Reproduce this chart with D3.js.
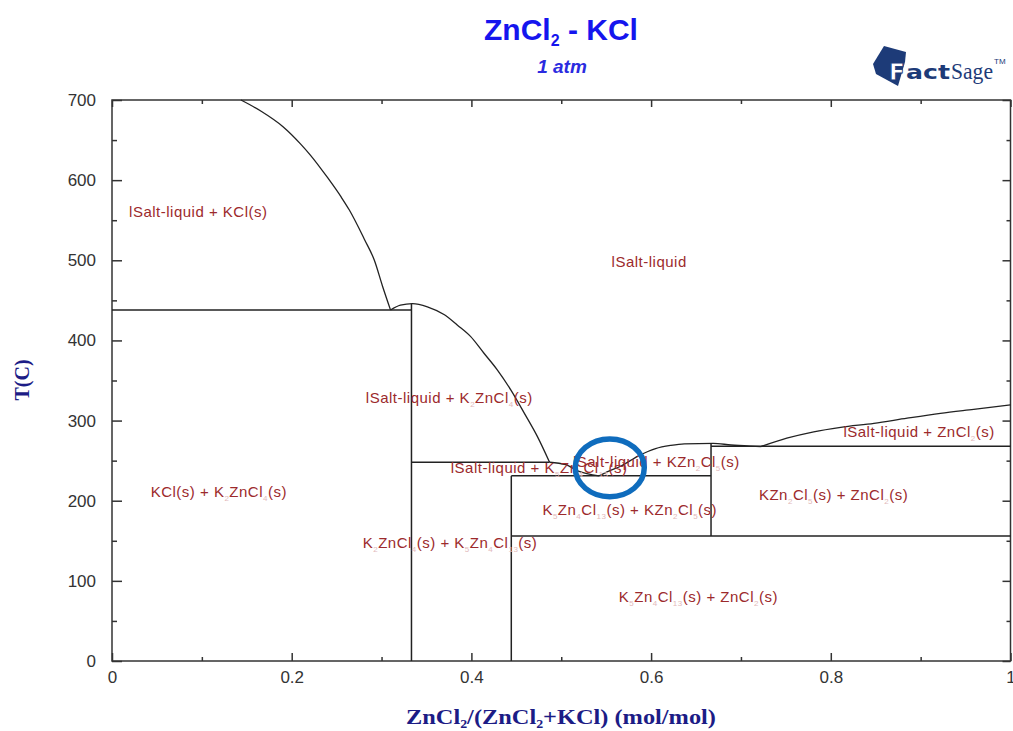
<!DOCTYPE html>
<html><head><meta charset="utf-8">
<script src="https://cdn.jsdelivr.net/npm/d3@7"></script>
<style>body{margin:0;background:#fff}svg{display:block}</style>
</head><body><svg id="c" width="1013" height="731"></svg>
<script>
// ---- data (x = ZnCl2 mole fraction, T in °C) ----
const xTicksMajor = [0, 0.2, 0.4, 0.6, 0.8, 1];
const xTicksMinor = [0.1, 0.3, 0.5, 0.7, 0.9];
const yTicksMajor = [0, 100, 200, 300, 400, 500, 600, 700];
const yTicksMinor = [50, 150, 250, 350, 450, 550, 650];

const liquidusKCl = [[0.1435,700],[0.166,686],[0.190,667],[0.210,645],[0.221,631],[0.240,603],[0.255,579],[0.264,563],[0.281,526],[0.292,500],[0.301,468],[0.310,438]];
const liquidusK2ZnCl4 = [[0.310,438],[0.321,444],[0.3345,446],[0.351,442],[0.370,432],[0.3845,419],[0.399,405],[0.414,384],[0.429,363],[0.444,338],[0.459,309],[0.4735,280],[0.487,248]];
const liquidusK5Zn4Cl13 = [[0.487,248],[0.505,245],[0.519,237],[0.542,231]];
const liquidusKZn2Cl5 = [[0.542,231],[0.553,237],[0.566,243],[0.586,256],[0.605,265],[0.622,269],[0.637,271],[0.669,271.6],[0.689,269.5],[0.711,268],[0.722,267.4]];
const liquidusZnCl2 = [[0.722,267.4],[0.751,278],[0.781,286],[0.811,291.6],[0.848,296.6],[0.885,303],[0.922,309],[0.959,314],[1.0,319.5]];

const invariantLines = [
  [[0,438],[0.3333,438]],
  [[0.3333,0],[0.3333,446]],
  [[0.3333,248],[0.487,248]],
  [[0.4444,0],[0.4444,231]],
  [[0.4444,231],[0.6667,231]],
  [[0.4444,156],[1,156]],
  [[0.6667,156],[0.6667,271.6]],
  [[0.6667,268],[1,268]]
];

const regionLabels = ["lSalt-liquid + KCl(s)","lSalt-liquid","lSalt-liquid + K_2ZnCl_4(s)","lSalt-liquid + K_5Zn_4Cl_13(s)","lSalt-liquid + KZn_2Cl_5(s)","lSalt-liquid + ZnCl_2(s)","KCl(s) + K_2ZnCl_4(s)","K_2ZnCl_4(s) + K_5Zn_4Cl_13(s)","K_5Zn_4Cl_13(s) + KZn_2Cl_5(s)","KZn_2Cl_5(s) + ZnCl_2(s)","K_5Zn_4Cl_13(s) + ZnCl_2(s)"];
const labelX = [0.019,0.556,0.2825,0.377,0.513,0.814,0.043,0.279,0.479,0.72,0.564];
const labelT = [560,498,328,241,248,286,211,147,188,207,80];

const highlight = {x:0.554, T:241, dx:0.0384, dT:36};

// ---- layout ----
const svg = d3.select("#c");
const L = 112, R = 1010.5, T0 = 661, T7 = 100;
const x = d3.scaleLinear().domain([0,1]).range([L,R]);
const y = d3.scaleLinear().domain([0,700]).range([T0,T7]);

const axisCol = "#333";
function styleAxis(g){
  g.select(".domain").remove();
  g.selectAll(".tick line").attr("stroke",axisCol).attr("stroke-width",1.5);
  g.selectAll(".tick text").attr("fill","#333").style("font-family","'Liberation Sans',Arial,sans-serif").style("font-size","17px");
}
svg.append("g").attr("transform",`translate(0,${T0})`)
  .call(d3.axisBottom(x).tickValues(xTicksMajor).tickSize(-8).tickPadding(10).tickFormat(d3.format("~g"))).call(styleAxis);
svg.append("g").attr("transform",`translate(0,${T0})`)
  .call(d3.axisBottom(x).tickValues(xTicksMinor).tickSize(-4).tickFormat("")).call(styleAxis);
svg.append("g").attr("transform",`translate(0,${T7})`)
  .call(d3.axisTop(x).tickValues(xTicksMajor).tickSize(-7).tickFormat("")).call(styleAxis);
svg.append("g").attr("transform",`translate(0,${T7})`)
  .call(d3.axisTop(x).tickValues(xTicksMinor).tickSize(-4).tickFormat("")).call(styleAxis);
svg.append("g").attr("transform",`translate(${L},0)`)
  .call(d3.axisLeft(y).tickValues(yTicksMajor).tickSize(-10).tickPadding(16)).call(styleAxis);
svg.append("g").attr("transform",`translate(${L},0)`)
  .call(d3.axisLeft(y).tickValues(yTicksMinor).tickSize(-5).tickFormat("")).call(styleAxis);
svg.append("g").attr("transform",`translate(${R},0)`)
  .call(d3.axisRight(y).tickValues(yTicksMajor).tickSize(-8).tickFormat("")).call(styleAxis);
svg.append("g").attr("transform",`translate(${R},0)`)
  .call(d3.axisRight(y).tickValues(yTicksMinor).tickSize(-4).tickFormat("")).call(styleAxis);

svg.append("rect").attr("x",L).attr("y",T7).attr("width",R-L).attr("height",T0-T7)
  .attr("fill","none").attr("stroke",axisCol).attr("stroke-width",1.5);

// ---- phase boundaries ----
const smooth = d3.line().x(d=>x(d[0])).y(d=>y(d[1])).curve(d3.curveMonotoneX);
const straight = d3.line().x(d=>x(d[0])).y(d=>y(d[1]));
[liquidusKCl, liquidusK2ZnCl4, liquidusK5Zn4Cl13, liquidusKZn2Cl5, liquidusZnCl2].forEach(pts=>{
  svg.append("path").attr("d", smooth(pts)).attr("fill","none").attr("stroke","#222").attr("stroke-width",1.3).attr("stroke-linejoin","round");
});
invariantLines.forEach(pts=>{
  svg.append("path").attr("d", straight(pts)).attr("fill","none").attr("stroke","#222").attr("stroke-width",1.5);
});

// ---- region labels ----
const labCol = "#9c2a2c";
regionLabels.forEach((s,i)=>{
  const t = svg.append("text").attr("x",x(labelX[i])).attr("y",y(labelT[i])+5)
    .style("font-family","'Liberation Sans',Arial,sans-serif").style("font-size","15px")
    .style("letter-spacing","0.5px").attr("fill",labCol);
  const parts = s.split(/_(\d+)/);
  let sub=false;
  parts.forEach((p,k)=>{
    if(p==="") { return; }
    if(k%2===1){
      t.append("tspan").attr("dy",4).style("font-size","8px").attr("fill","#e2b9ba").text(p);
      sub=true;
    } else {
      const ts = t.append("tspan").text(p);
      if(sub){ ts.attr("dy",-4); sub=false; }
    }
  });
});

// ---- highlight circle ----
svg.append("ellipse").attr("cx",x(highlight.x)).attr("cy",y(highlight.T))
  .attr("rx",x(highlight.x+highlight.dx)-x(highlight.x)).attr("ry",y(highlight.T-highlight.dT)-y(highlight.T))
  .attr("fill","none").attr("stroke","#0f6cbd").attr("stroke-width",5.5);

// ---- titles ----
const title = svg.append("text").attr("x",561).attr("y",40).attr("text-anchor","middle")
  .style("font-family","'Liberation Sans',Arial,sans-serif").style("font-weight","bold").style("font-size","30px").attr("fill","#1515ee");
title.append("tspan").text("ZnCl");
title.append("tspan").attr("dy",6).style("font-size","16px").text("2");
title.append("tspan").attr("dy",-6).text(" - KCl");
svg.append("text").attr("x",562).attr("y",73).attr("text-anchor","middle")
  .style("font-family","'Liberation Sans',Arial,sans-serif").style("font-style","italic").style("font-weight","bold").style("font-size","19px").attr("fill","#2b2be0").text("1 atm");

const axLabCol = "#1c1c86";
const xl = svg.append("text").attr("x",561).attr("y",724).attr("text-anchor","middle")
  .attr("textLength",310).attr("lengthAdjust","spacingAndGlyphs")
  .style("font-family","'Liberation Serif','Times New Roman',serif").style("font-weight","bold").style("font-size","21px").attr("fill",axLabCol);
xl.append("tspan").text("ZnCl");
xl.append("tspan").attr("dy",4).style("font-size","12px").text("2");
xl.append("tspan").attr("dy",-4).text("/(ZnCl");
xl.append("tspan").attr("dy",4).style("font-size","12px").text("2");
xl.append("tspan").attr("dy",-4).text("+KCl) (mol/mol)");

svg.append("text").attr("transform","translate(29,380) rotate(-90)").attr("text-anchor","middle")
  .style("font-family","'Liberation Serif','Times New Roman',serif").style("font-weight","bold").style("font-size","20px").attr("fill",axLabCol).text("T(C)");

// ---- FactSage logo ----
const logo = svg.append("g");
logo.append("path").attr("d","M884,46 L906,52 L905,62 L898,86 L876,74 L873,64 Z").attr("fill","#1d3b78");
logo.append("text").attr("x",889).attr("y",80).style("font-family","'DejaVu Sans',sans-serif").style("font-weight","bold").style("font-size","23px")
  .attr("fill","#fff").attr("stroke","#1d3b78").attr("stroke-width",0.8).text("F");
logo.append("text").attr("x",906).attr("y",79).attr("textLength",44).attr("lengthAdjust","spacingAndGlyphs").style("font-family","'DejaVu Sans',sans-serif").style("font-weight","bold").style("font-size","19px")
  .attr("fill","#1d3b78").text("act");
logo.append("text").attr("x",951).attr("y",79).attr("textLength",42).attr("lengthAdjust","spacingAndGlyphs").style("font-family","'Liberation Serif',serif").style("font-size","23px")
  .attr("fill","#1d3b78").text("Sage");
logo.append("text").attr("x",994).attr("y",64).style("font-family","'Liberation Sans',sans-serif").style("font-size","8px")
  .attr("fill","#1d3b78").text("TM");
</script></body></html>
